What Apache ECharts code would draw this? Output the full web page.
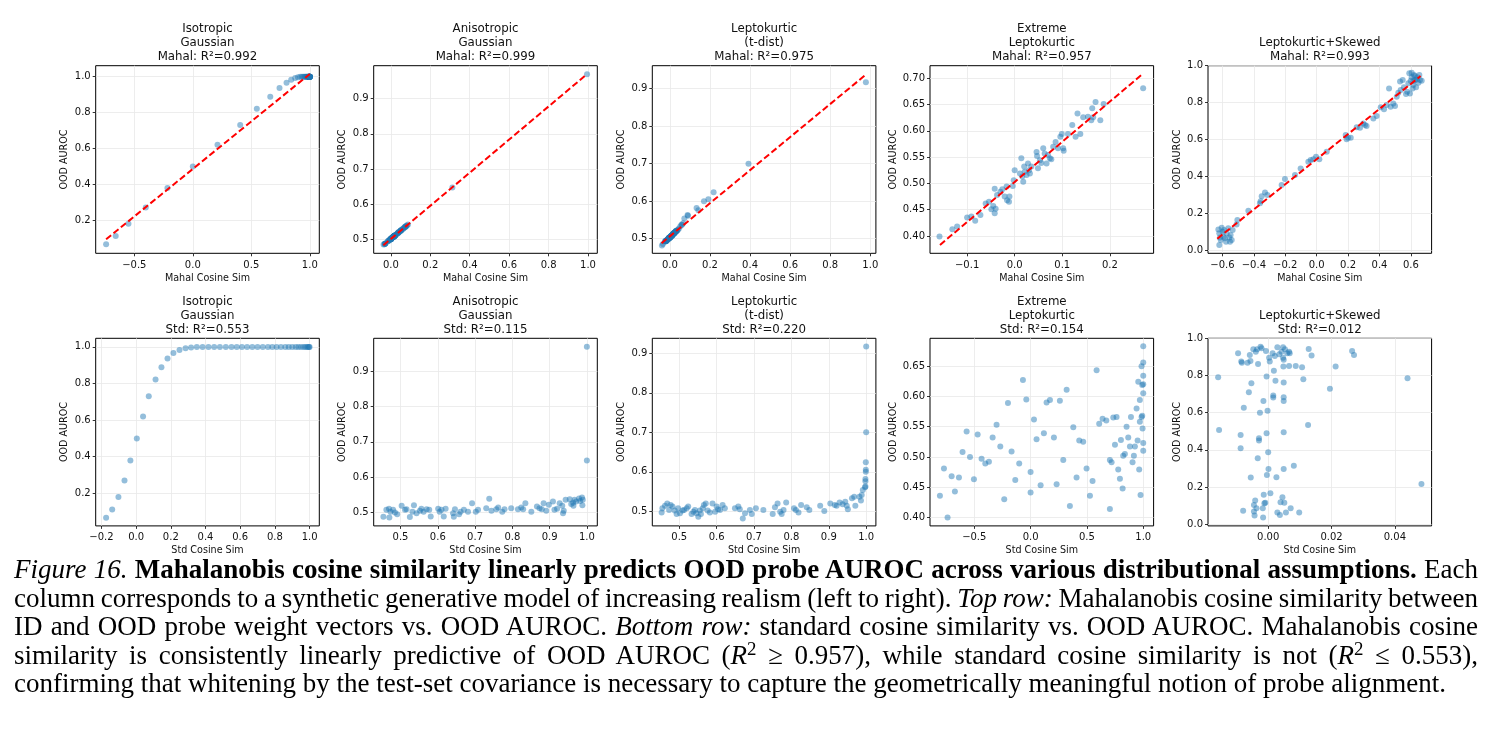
<!DOCTYPE html>
<html>
<head>
<meta charset="utf-8">
<script src="https://cdn.jsdelivr.net/npm/echarts@6/dist/echarts.min.js"></script>
<style>
  html, body { margin: 0; padding: 0; background: #fff; }
  #chart { position: absolute; left: 0; top: 0; width: 1494px; height: 560px; }
  #caption {
    position: absolute; left: 14px; top: 555px; width: 1464px;
    font-family: "Liberation Serif", "DejaVu Serif", serif;
    font-size: 27px; line-height: 28.5px; color: #000;
  }
  #caption div { text-align: justify; text-align-last: justify; word-spacing: -4px; }
  #caption div.last { text-align-last: left; word-spacing: 0; }
  #caption sup { font-size: 0.7em; line-height: 0; vertical-align: 0.5em; }
</style>
</head>
<body>
<div id="chart"></div>
<div id="caption">
  <div><i>Figure 16.</i> <b>Mahalanobis cosine similarity linearly predicts OOD probe AUROC across various distributional assumptions.</b> Each</div>
  <div>column corresponds to a synthetic generative model of increasing realism (left to right). <i>Top row:</i> Mahalanobis cosine similarity between</div>
  <div>ID and OOD probe weight vectors vs. OOD AUROC. <i>Bottom row:</i> standard cosine similarity vs. OOD AUROC. Mahalanobis cosine</div>
  <div>similarity is consistently linearly predictive of OOD AUROC (<i>R</i><sup>2</sup>&nbsp;≥&nbsp;0.957), while standard cosine similarity is not (<i>R</i><sup>2</sup>&nbsp;≤&nbsp;0.553),</div>
  <div class="last">confirming that whitening by the test-set covariance is necessary to capture the geometrically meaningful notion of probe alignment.</div>
</div>
<script>
// ---- data: [cosine sim, OOD AUROC] ----
const isoMahal = [[-0.741,0.065],[-0.659,0.111],[-0.550,0.179],[-0.402,0.269],[-0.217,0.378],[0.000,0.499],[0.211,0.620],[0.405,0.730],[0.547,0.821],[0.662,0.888],[0.741,0.936],[0.801,0.966],[0.841,0.983],[0.875,0.992],[0.899,0.997],[0.918,0.999],[0.932,1.0],[0.944,1.0],[0.953,1.0],[0.961,1.0],[0.967,1.0],[0.973,1.0],[0.978,1.0],[0.982,1.0],[0.985,1.0],[0.988,1.0],[0.990,1.0],[0.992,1.0],[0.994,1.0],[0.995,1.0],[0.996,1.0],[0.997,1.0],[0.998,1.0],[0.998,1.0],[0.999,1.0],[0.999,1.0],[0.999,1.0],[1.0,1.0],[1.0,1.0],[1.0,1.0],[1.0,1.0],[1.0,1.0],[1.0,1.0],[1.0,1.0]];
const isoStd = [[-0.173,0.065],[-0.138,0.111],[-0.102,0.179],[-0.067,0.269],[-0.033,0.378],[0.004,0.499],[0.040,0.620],[0.073,0.730],[0.112,0.821],[0.146,0.888],[0.181,0.936],[0.215,0.966],[0.250,0.983],[0.285,0.992],[0.317,0.997],[0.350,0.999],[0.383,1.0],[0.417,1.0],[0.450,1.0],[0.483,1.0],[0.517,1.0],[0.550,1.0],[0.580,1.0],[0.610,1.0],[0.640,1.0],[0.670,1.0],[0.700,1.0],[0.730,1.0],[0.760,1.0],[0.785,1.0],[0.810,1.0],[0.835,1.0],[0.860,1.0],[0.880,1.0],[0.900,1.0],[0.920,1.0],[0.935,1.0],[0.950,1.0],[0.965,1.0],[0.975,1.0],[0.985,1.0],[0.992,1.0],[0.997,1.0],[1.0,1.0]];
const isoFit = [[-0.741,0.092],[1.0,1.015]];

const anisoMahal = [[0.995,0.970],[0.312,0.647],[-0.030,0.487],[0.013,0.507],[0.019,0.510],[0.000,0.501],[0.012,0.507],[-0.004,0.499],[-0.015,0.494],[0.036,0.518],[0.013,0.507],[0.015,0.508],[-0.032,0.486],[0.001,0.501],[0.040,0.520],[-0.008,0.497],[0.006,0.504],[0.019,0.510],[0.000,0.501],[0.015,0.508],[0.012,0.507],[-0.028,0.488],[0.019,0.510],[0.001,0.501],[0.013,0.507],[-0.027,0.488],[0.020,0.510],[-0.008,0.497],[-0.030,0.487],[0.015,0.508],[-0.015,0.494],[0.000,0.501],[0.012,0.507],[0.001,0.501],[0.051,0.525],[-0.001,0.501],[0.013,0.507],[0.021,0.511],[0.079,0.538],[0.006,0.504],[0.015,0.508],[0.025,0.513],[0.000,0.501],[0.014,0.508],[0.021,0.511],[0.015,0.508],[0.026,0.513],[0.014,0.508],[0.050,0.525],[0.001,0.501],[0.032,0.516],[0.022,0.511],[0.015,0.508],[0.051,0.525],[0.006,0.504],[0.042,0.521],[0.062,0.530],[0.013,0.507],[0.019,0.510],[0.051,0.525],[0.036,0.518],[-0.008,0.497],[0.006,0.504],[0.072,0.535],[0.076,0.537],[0.047,0.523],[0.055,0.527],[0.036,0.518],[0.072,0.535],[0.062,0.530],[0.081,0.539],[0.066,0.532],[0.087,0.542],[0.040,0.520],[0.072,0.535],[-0.037,0.485]];
const anisoStd = [[1.0,0.970],[1.0,0.647],[0.454,0.487],[0.462,0.507],[0.469,0.510],[0.473,0.501],[0.480,0.507],[0.485,0.499],[0.491,0.494],[0.503,0.518],[0.512,0.507],[0.516,0.508],[0.525,0.486],[0.532,0.501],[0.536,0.520],[0.543,0.497],[0.552,0.504],[0.556,0.510],[0.562,0.501],[0.570,0.508],[0.577,0.507],[0.581,0.488],[0.601,0.510],[0.605,0.501],[0.610,0.507],[0.616,0.488],[0.621,0.510],[0.641,0.497],[0.643,0.487],[0.646,0.508],[0.657,0.494],[0.661,0.501],[0.670,0.507],[0.681,0.501],[0.692,0.525],[0.702,0.501],[0.708,0.507],[0.730,0.511],[0.738,0.538],[0.744,0.504],[0.757,0.508],[0.762,0.513],[0.773,0.501],[0.779,0.508],[0.797,0.511],[0.815,0.508],[0.824,0.513],[0.829,0.508],[0.835,0.525],[0.851,0.501],[0.866,0.516],[0.873,0.511],[0.879,0.508],[0.884,0.525],[0.891,0.504],[0.898,0.521],[0.909,0.530],[0.913,0.507],[0.920,0.510],[0.927,0.525],[0.934,0.518],[0.936,0.497],[0.938,0.504],[0.943,0.535],[0.954,0.537],[0.958,0.523],[0.963,0.527],[0.964,0.518],[0.967,0.535],[0.971,0.530],[0.979,0.539],[0.982,0.532],[0.987,0.542],[0.988,0.520],[0.989,0.535],[0.470,0.485]];
const anisoFit = [[-0.038,0.483],[0.995,0.970]];

const tdistMahal = [[0.978,0.917],[0.392,0.700],[0.218,0.624],[0.192,0.605],[0.170,0.600],[0.133,0.582],[0.142,0.576],[0.088,0.563],[0.090,0.561],[-0.014,0.497],[0.008,0.508],[0.020,0.514],[0.028,0.520],[-0.003,0.503],[0.024,0.516],[0.013,0.512],[-0.006,0.502],[-0.022,0.493],[0.006,0.508],[-0.018,0.495],[-0.002,0.502],[0.000,0.503],[0.010,0.508],[0.016,0.512],[-0.020,0.493],[-0.010,0.499],[-0.001,0.503],[-0.016,0.495],[-0.035,0.486],[-0.004,0.502],[-0.024,0.493],[0.009,0.508],[0.022,0.516],[0.031,0.520],[-0.005,0.502],[-0.012,0.497],[0.029,0.520],[-0.008,0.499],[0.014,0.512],[0.002,0.505],[-0.003,0.503],[0.021,0.516],[0.007,0.508],[0.011,0.508],[0.017,0.512],[0.003,0.505],[-0.040,0.482],[-0.017,0.495],[0.001,0.503],[-0.021,0.493],[0.008,0.508],[-0.002,0.503],[-0.019,0.493],[0.012,0.510],[0.032,0.520],[-0.009,0.499],[-0.023,0.493],[0.000,0.503],[0.035,0.522],[0.010,0.508],[0.002,0.503],[-0.011,0.497],[0.023,0.516],[0.012,0.510],[-0.001,0.503],[0.019,0.514],[-0.004,0.501],[0.030,0.520],[0.025,0.516],[0.018,0.514],[0.036,0.522],[0.027,0.518],[0.040,0.524],[0.020,0.514],[0.004,0.505],[0.052,0.533],[0.058,0.537],[0.017,0.514],[0.060,0.537],[0.045,0.527],[0.066,0.541],[0.072,0.554]];
const tdistStd = [[1.0,0.917],[1.0,0.700],[0.999,0.624],[0.999,0.605],[0.999,0.600],[0.998,0.582],[0.998,0.576],[0.998,0.563],[0.997,0.561],[0.453,0.497],[0.455,0.508],[0.462,0.514],[0.468,0.520],[0.473,0.503],[0.477,0.516],[0.482,0.512],[0.488,0.502],[0.493,0.493],[0.497,0.508],[0.502,0.495],[0.509,0.502],[0.513,0.503],[0.520,0.508],[0.524,0.512],[0.533,0.493],[0.538,0.499],[0.542,0.503],[0.546,0.495],[0.551,0.486],[0.555,0.502],[0.558,0.493],[0.563,0.508],[0.566,0.516],[0.571,0.520],[0.576,0.502],[0.582,0.497],[0.589,0.520],[0.596,0.499],[0.600,0.512],[0.604,0.505],[0.609,0.503],[0.616,0.516],[0.622,0.508],[0.649,0.508],[0.658,0.512],[0.662,0.505],[0.670,0.482],[0.676,0.495],[0.689,0.503],[0.694,0.493],[0.705,0.508],[0.725,0.503],[0.750,0.493],[0.756,0.510],[0.763,0.520],[0.770,0.499],[0.774,0.493],[0.779,0.503],[0.786,0.522],[0.807,0.508],[0.812,0.503],[0.819,0.497],[0.826,0.516],[0.841,0.510],[0.848,0.503],[0.877,0.514],[0.888,0.501],[0.904,0.520],[0.916,0.516],[0.921,0.514],[0.929,0.522],[0.937,0.518],[0.944,0.524],[0.948,0.514],[0.951,0.505],[0.962,0.533],[0.968,0.537],[0.971,0.514],[0.982,0.537],[0.986,0.527],[0.988,0.541],[0.991,0.554]];
const tdistFit = [[-0.042,0.488],[0.975,0.936]];

const extMahal = [[-0.158,0.399],[-0.131,0.413],[-0.121,0.418],[-0.100,0.435],[-0.091,0.437],[-0.083,0.429],[-0.072,0.440],[-0.061,0.462],[-0.054,0.465],[-0.049,0.451],[-0.045,0.457],[-0.042,0.443],[-0.040,0.452],[-0.042,0.490],[-0.037,0.478],[-0.030,0.484],[-0.026,0.489],[-0.021,0.475],[-0.017,0.494],[-0.016,0.468],[-0.012,0.465],[-0.011,0.475],[-0.004,0.495],[-0.002,0.506],[0.000,0.525],[0.011,0.519],[0.014,0.548],[0.016,0.513],[0.018,0.503],[0.020,0.532],[0.021,0.522],[0.025,0.516],[0.028,0.538],[0.030,0.525],[0.032,0.519],[0.035,0.532],[0.046,0.560],[0.047,0.552],[0.049,0.529],[0.053,0.544],[0.056,0.539],[0.060,0.567],[0.063,0.557],[0.067,0.538],[0.070,0.554],[0.074,0.548],[0.077,0.546],[0.081,0.570],[0.086,0.579],[0.091,0.567],[0.096,0.589],[0.099,0.594],[0.102,0.567],[0.103,0.562],[0.112,0.594],[0.121,0.611],[0.128,0.589],[0.132,0.633],[0.138,0.594],[0.144,0.626],[0.154,0.627],[0.161,0.620],[0.163,0.643],[0.165,0.626],[0.170,0.655],[0.180,0.620],[0.187,0.651],[0.270,0.681]];
const extStd = [[-0.805,0.436],[-0.769,0.481],[-0.737,0.400],[-0.701,0.468],[-0.672,0.443],[-0.636,0.466],[-0.604,0.508],[-0.568,0.542],[-0.538,0.500],[-0.503,0.463],[-0.470,0.537],[-0.435,0.497],[-0.402,0.489],[-0.370,0.492],[-0.337,0.532],[-0.302,0.553],[-0.269,0.517],[-0.234,0.430],[-0.201,0.589],[-0.169,0.509],[-0.136,0.462],[-0.101,0.489],[-0.068,0.627],[-0.038,0.595],[0.000,0.475],[0.000,0.441],[0.030,0.562],[0.053,0.529],[0.089,0.453],[0.118,0.539],[0.142,0.590],[0.172,0.594],[0.207,0.532],[0.231,0.455],[0.260,0.593],[0.290,0.495],[0.320,0.611],[0.349,0.419],[0.379,0.549],[0.408,0.466],[0.432,0.527],[0.467,0.525],[0.497,0.481],[0.527,0.436],[0.550,0.460],[0.586,0.643],[0.609,0.555],[0.639,0.563],[0.672,0.560],[0.704,0.495],[0.704,0.414],[0.719,0.491],[0.734,0.565],[0.749,0.520],[0.763,0.566],[0.778,0.479],[0.793,0.464],[0.802,0.528],[0.817,0.448],[0.822,0.502],[0.837,0.505],[0.852,0.550],[0.867,0.532],[0.882,0.517],[0.891,0.566],[0.905,0.491],[0.917,0.502],[0.926,0.517],[0.941,0.580],[0.950,0.527],[0.956,0.624],[0.964,0.479],[0.970,0.594],[0.970,0.558],[0.976,0.437],[0.985,0.650],[0.985,0.566],[0.991,0.619],[0.994,0.547],[1.0,0.683],[1.0,0.656],[1.0,0.634],[1.0,0.620],[1.0,0.605],[1.0,0.523],[1.0,0.510],[0.991,0.568]];
const extFit = [[-0.157,0.383],[0.266,0.706]];

const skewMahal = [[-0.626,0.115],[-0.620,0.094],[-0.620,0.031],[-0.616,0.072],[-0.611,0.058],[-0.605,0.124],[-0.599,0.103],[-0.594,0.076],[-0.590,0.112],[-0.584,0.067],[-0.577,0.049],[-0.573,0.094],[-0.563,0.121],[-0.556,0.072],[-0.552,0.049],[-0.548,0.085],[-0.541,0.058],[-0.535,0.112],[-0.510,0.142],[-0.505,0.166],[-0.435,0.216],[-0.361,0.256],[-0.357,0.268],[-0.350,0.295],[-0.329,0.314],[-0.314,0.301],[-0.223,0.355],[-0.202,0.387],[-0.138,0.409],[-0.102,0.445],[-0.053,0.481],[-0.038,0.490],[-0.021,0.494],[-0.004,0.508],[0.017,0.494],[0.064,0.535],[0.185,0.625],[0.191,0.602],[0.217,0.611],[0.200,0.610],[0.255,0.667],[0.276,0.665],[0.297,0.688],[0.308,0.679],[0.318,0.674],[0.361,0.715],[0.382,0.728],[0.408,0.775],[0.429,0.764],[0.446,0.787],[0.461,0.877],[0.471,0.778],[0.488,0.796],[0.499,0.782],[0.510,0.832],[0.520,0.854],[0.531,0.914],[0.535,0.868],[0.548,0.923],[0.556,0.883],[0.569,0.847],[0.584,0.905],[0.590,0.959],[0.594,0.850],[0.605,0.937],[0.616,0.896],[0.620,0.950],[0.626,0.923],[0.633,0.883],[0.641,0.937],[0.648,0.908],[0.654,0.950],[0.658,0.923],[0.669,0.919],[0.605,0.962],[0.616,0.917],[0.626,0.944],[0.637,0.926],[0.599,0.919],[0.611,0.877],[0.577,0.859]];
const skewStd = [[-0.0158,0.790],[-0.0155,0.507],[-0.0095,0.919],[-0.0087,0.480],[-0.0087,0.409],[-0.0085,0.875],[-0.0083,0.869],[-0.0079,0.072],[-0.0077,0.627],[-0.0065,0.869],[-0.0061,0.710],[-0.0058,0.910],[-0.0056,0.878],[-0.0055,0.251],[-0.0053,0.758],[-0.0047,0.941],[-0.0045,0.104],[-0.0045,0.068],[-0.0043,0.047],[-0.0041,0.127],[-0.0039,0.928],[-0.0037,0.086],[-0.0035,0.941],[-0.0033,0.355],[-0.0032,0.862],[-0.0029,0.462],[-0.0029,0.450],[-0.0026,0.600],[-0.0024,0.955],[-0.0021,0.946],[-0.0017,0.086],[-0.0016,0.036],[-0.0015,0.663],[-0.0014,0.158],[-0.0012,0.113],[-0.0009,0.116],[-0.0007,0.932],[-0.0005,0.794],[-0.0004,0.265],[-0.0005,0.489],[-0.0002,0.611],[0.0,0.387],[0.0001,0.297],[0.0003,0.896],[0.0005,0.875],[0.0007,0.167],[0.0014,0.919],[0.0016,0.681],[0.0016,0.692],[0.0018,0.826],[0.0021,0.905],[0.0023,0.772],[0.0026,0.253],[0.0029,0.063],[0.0029,0.952],[0.0035,0.914],[0.0037,0.050],[0.0039,0.118],[0.0042,0.928],[0.0045,0.145],[0.0047,0.952],[0.0047,0.896],[0.0049,0.884],[0.0048,0.848],[0.0049,0.762],[0.0049,0.683],[0.0049,0.663],[0.0049,0.495],[0.0049,0.297],[0.0051,0.116],[0.0053,0.941],[0.0056,0.063],[0.0060,0.919],[0.0066,0.928],[0.0066,0.851],[0.0068,0.919],[0.0071,0.086],[0.0081,0.315],[0.0087,0.851],[0.0098,0.063],[0.0107,0.844],[0.0111,0.780],[0.0126,0.534],[0.0128,0.943],[0.0137,0.908],[0.0195,0.728],[0.0213,0.848],[0.0265,0.932],[0.0271,0.910],[0.0440,0.785],[0.0484,0.217]];
const skewFit = [[-0.633,0.065],[0.662,0.944]];

// ---- tick values ----
const ticksHalf = [-0.5, 0.0, 0.5, 1.0];
const ticksFifthTo1 = [0.2, 0.4, 0.6, 0.8, 1.0];
const ticksFifthFrom0 = [0.0, 0.2, 0.4, 0.6, 0.8, 1.0];
const ticksFifthSigned = [-0.2, 0.0, 0.2, 0.4, 0.6, 0.8, 1.0];
const ticksTenthHigh = [0.5, 0.6, 0.7, 0.8, 0.9];
const ticksTenthStd = [0.5, 0.6, 0.7, 0.8, 0.9, 1.0];
const ticksExtMahalX = [-0.1, 0.0, 0.1, 0.2];
const ticksExtMahalY = [0.40, 0.45, 0.50, 0.55, 0.60, 0.65, 0.70];
const ticksExtStdY = [0.40, 0.45, 0.50, 0.55, 0.60, 0.65];
const ticksSkewMahalX = [-0.6, -0.4, -0.2, 0.0, 0.2, 0.4, 0.6];
const ticksSkewStdX = [0.00, 0.02, 0.04];

const titles = [
  'Isotropic\nGaussian', 'Anisotropic\nGaussian', 'Leptokurtic\n(t-dist)',
  'Extreme\nLeptokurtic', 'Leptokurtic+Skewed'
];
const mahalR2 = ['0.992', '0.999', '0.975', '0.957', '0.993'];
const stdR2 = ['0.553', '0.115', '0.220', '0.154', '0.012'];

const panels = [
  { pts: isoMahal, fit: isoFit, x: [-0.830, 1.081], y: [0.014, 1.061], xt: ticksHalf, yt: ticksFifthTo1, xd: 1, yd: 1, gap: 26 },
  { pts: anisoMahal, fit: anisoFit, x: [-0.087, 1.047], y: [0.460, 0.994], xt: ticksFifthFrom0, yt: ticksTenthHigh, xd: 1, yd: 1, gap: 26 },
  { pts: tdistMahal, fit: tdistFit, x: [-0.088, 1.028], y: [0.461, 0.961], xt: ticksFifthFrom0, yt: ticksTenthHigh, xd: 1, yd: 1, gap: 26 },
  { pts: extMahal, fit: extFit, x: [-0.178, 0.292], y: [0.367, 0.724], xt: ticksExtMahalX, yt: ticksExtMahalY, xd: 1, yd: 2, gap: 31 },
  { pts: skewMahal, fit: skewFit, x: [-0.692, 0.732], y: [-0.014, 1.0], xt: ticksSkewMahalX, yt: ticksFifthFrom0, xd: 1, yd: 1, gap: 26 },
  { pts: isoStd, x: [-0.233, 1.056], y: [0.021, 1.047], xt: ticksFifthSigned, yt: ticksFifthTo1, xd: 1, yd: 1, gap: 26 },
  { pts: anisoStd, x: [0.428, 1.028], y: [0.461, 0.994], xt: ticksTenthStd, yt: ticksTenthHigh, xd: 1, yd: 1, gap: 26 },
  { pts: tdistStd, x: [0.428, 1.026], y: [0.463, 0.938], xt: ticksTenthStd, yt: ticksTenthHigh, xd: 1, yd: 1, gap: 26 },
  { pts: extStd, x: [-0.893, 1.092], y: [0.386, 0.696], xt: ticksHalf, yt: ticksExtStdY, xd: 1, yd: 2, gap: 31 },
  { pts: skewStd, x: [-0.0190, 0.0516], y: [-0.009, 1.0], xt: ticksSkewStdX, yt: ticksFifthFrom0, xd: 2, yd: 1, gap: 26 }
];

const FONT = 'DejaVu Sans';
const lefts = [95.7, 373.7, 652.3, 930, 1208];
const tops = [65.7, 338.3];
const boxW = 223.6, boxH = 187.6;
const titleLast = [56.5, 329.5];   // centre of the last title line, per row
const lineH = 13.6;

const fmt = (d) => (v) => (v < -1e-9 ? '\u2212' : '') + Math.abs(v).toFixed(d);

const grids = [], xAxes = [], yAxes = [], series = [], graphics = [];
panels.forEach((p, i) => {
  const row = i < 5 ? 0 : 1, col = i % 5;
  const mahal = row === 0;
  grids.push({
    left: lefts[col], top: tops[row], width: boxW, height: boxH,
    show: true, borderColor: '#000', borderWidth: 1, backgroundColor: 'transparent',
    containLabel: false, outerBoundsMode: 'none'
  });
  const axisCommon = {
    type: 'value', gridIndex: i,
    nameLocation: 'middle',
    nameTextStyle: { fontFamily: FONT, fontSize: 9.6, color: '#111' },
    axisLine: { show: false, onZero: false },
    splitLine: { show: true, lineStyle: { color: '#e8e8e8', width: 0.8 } }
  };
  xAxes.push(Object.assign({}, axisCommon, {
    min: p.x[0], max: p.x[1],
    name: mahal ? 'Mahal Cosine Sim' : 'Std Cosine Sim', nameGap: 20,
    axisTick: { show: true, length: 3, lineStyle: { color: '#000', width: 0.8 }, customValues: p.xt },
    axisLabel: { customValues: p.xt, formatter: fmt(p.xd), margin: 7, fontFamily: FONT, fontSize: 10, color: '#111' }
  }));
  yAxes.push(Object.assign({}, axisCommon, {
    min: p.y[0], max: p.y[1],
    name: 'OOD AUROC', nameGap: p.gap, nameRotate: 90,
    axisTick: { show: true, length: 3, lineStyle: { color: '#000', width: 0.8 }, customValues: p.yt },
    axisLabel: { customValues: p.yt, formatter: fmt(p.yd), margin: 5, fontFamily: FONT, fontSize: 10, color: '#111' }
  }));
  series.push({
    type: 'scatter', xAxisIndex: i, yAxisIndex: i, data: p.pts,
    symbolSize: 6, itemStyle: { color: 'rgba(31,119,180,0.6)' }, silent: true
  });
  if (p.fit) {
    series.push({
      type: 'line', xAxisIndex: i, yAxisIndex: i, data: p.fit,
      symbol: 'none', silent: true,
      lineStyle: { color: '#ff0000', width: 2, type: [6.5, 3] }
    });
  }
  const text = titles[col] + '\n' + (mahal ? 'Mahal: R²=' + mahalR2[col] : 'Std: R²=' + stdR2[col]);
  const nLines = text.split('\n').length;
  graphics.push({
    type: 'text',
    x: lefts[col] + boxW / 2,
    y: titleLast[row] + lineH / 2 - nLines * lineH,
    silent: true,
    style: {
      text: text, align: 'center', verticalAlign: 'top',
      textAlign: 'center', textVerticalAlign: 'top',
      fontFamily: FONT, fontSize: 11.8, lineHeight: lineH, fill: '#111'
    }
  });
});

const chart = echarts.init(document.getElementById('chart'), null, { renderer: 'canvas' });
chart.setOption({
  animation: false,
  backgroundColor: '#fff',
  grid: grids,
  xAxis: xAxes,
  yAxis: yAxes,
  series: series,
  graphic: graphics
});
</script>
</body>
</html>
